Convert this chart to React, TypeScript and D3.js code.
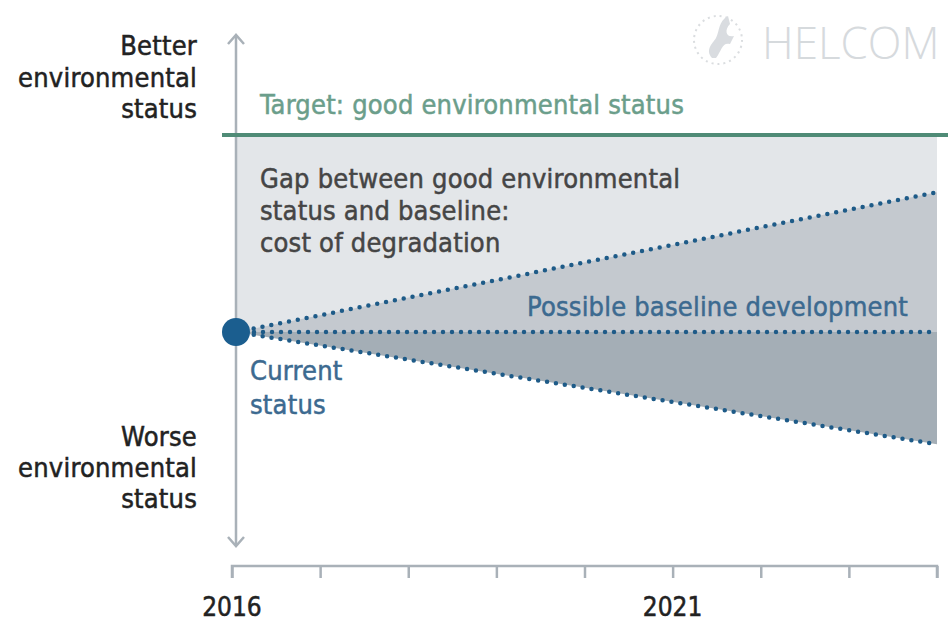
import * as d3 from 'd3';
import { useEffect, useRef } from 'react';

// years on the x axis (ticks every year)
const years = [2016, 2017, 2018, 2019, 2020, 2021, 2022, 2023, 2024];
const yearLabels = [2016, 2021];
// status relative to the current status (0), target = 1
const scenarioYears = [2016, 2024];
const upperScenario = [0, 0.71];
const baselineScenario = [0, 0];
const lowerScenario = [0, -0.57];
const targetStatus = 1;

const FONT = '"DejaVu Sans Condensed", "Liberation Sans Narrow", "Roboto", sans-serif';

export default function App() {
  const ref = useRef<SVGSVGElement | null>(null);

  useEffect(() => {
    const svg = d3.select(ref.current);
    svg.selectAll('*').remove();

    const margin = { left: 232, right: 13 };
    const W = 950;

    const x = d3.scaleLinear()
      .domain([years[0], years[years.length - 1]])
      .range([margin.left, W - margin.right]);
    const y = d3.scaleLinear()
      .domain([0, targetStatus])
      .range([332, 135]);

    const xEnd = x(scenarioYears[1]);
    const x0 = x(scenarioYears[0]) + 4;

    const pts = (vals: number[]) => scenarioYears.map((yr, i) => [yr === scenarioYears[0] ? x0 : x(yr), y(vals[i])] as [number, number]);

    // light gray gap area up to target
    svg.append('rect')
      .attr('x', x0)
      .attr('y', y(targetStatus))
      .attr('width', xEnd - x0)
      .attr('height', y(0) - y(targetStatus))
      .attr('fill', '#e3e6e9');

    const area = d3.area<[number, number, number]>()
      .x(d => d[0])
      .y0(d => d[1])
      .y1(d => d[2]);

    const band = (top: number[], bot: number[]) => scenarioYears.map((yr, i) =>
      [yr === scenarioYears[0] ? x0 : x(yr), y(top[i]), y(bot[i])] as [number, number, number]);

    svg.append('path')
      .attr('d', area(band(upperScenario, baselineScenario)))
      .attr('fill', '#c4c9cf');
    svg.append('path')
      .attr('d', area(band(baselineScenario, lowerScenario)))
      .attr('fill', '#a4aeb6');

    // vertical arrow axis
    const ax = x0;
    svg.append('line')
      .attr('x1', ax).attr('x2', ax)
      .attr('y1', 36).attr('y2', 545)
      .attr('stroke', '#a9b1b8').attr('stroke-width', 2.5);
    svg.append('path')
      .attr('d', `M${ax - 8},${44} L${ax},${35} L${ax + 8},${44}`)
      .attr('fill', 'none').attr('stroke', '#a9b1b8').attr('stroke-width', 2.5);
    svg.append('path')
      .attr('d', `M${ax - 8},${537} L${ax},${546} L${ax + 8},${537}`)
      .attr('fill', 'none').attr('stroke', '#a9b1b8').attr('stroke-width', 2.5);

    // target line
    svg.append('line')
      .attr('x1', 222).attr('x2', 948)
      .attr('y1', y(targetStatus)).attr('y2', y(targetStatus))
      .attr('stroke', '#4f8b76').attr('stroke-width', 4);

    // dotted scenario lines
    const line = d3.line();
    [upperScenario, baselineScenario, lowerScenario].forEach(s => {
      svg.append('path')
        .attr('d', line(pts(s)))
        .attr('fill', 'none')
        .attr('stroke', '#1e5b88')
        .attr('stroke-width', 4.5)
        .attr('stroke-linecap', 'round')
        .attr('stroke-dasharray', '0 9');
    });

    // current status point
    svg.append('circle')
      .attr('cx', x0).attr('cy', y(0)).attr('r', 14)
      .attr('fill', '#1b5e8f');

    // x axis
    const axisY = 566;
    const xAxis = svg.append('g')
      .attr('transform', `translate(0,${axisY})`)
      .call(d3.axisBottom(x).tickValues(years).tickSize(12).tickSizeOuter(12).tickFormat(() => ''));
    xAxis.select('.domain')
      .attr('stroke', '#a9b1b8').attr('stroke-width', 2.5)
      .attr('d', `M${x(years[0])},12V0H${x(years[years.length - 1])}V12`);
    xAxis.selectAll('.tick line').attr('stroke', '#a9b1b8').attr('stroke-width', 2.5);

    svg.selectAll('text.year')
      .data(yearLabels)
      .enter()
      .append('text')
      .attr('class', 'year')
      .attr('x', d => x(d))
      .attr('y', 616)
      .attr('text-anchor', 'middle')
      .attr('font-family', FONT)
      .attr('font-size', 26)
      .attr('fill', '#222')
      .attr('stroke', '#222')
      .attr('stroke-width', 0.5)
      .text(d => d);

    const addText = (lines: string[], tx: number, ty: number, dy: number, fill: string, anchor = 'start', size = 27) => {
      const t = svg.append('text')
        .attr('font-family', FONT)
        .attr('font-size', size)
        .attr('fill', fill)
        .attr('stroke', fill)
        .attr('stroke-width', 0.5)
        .attr('letter-spacing', 0.2)
        .attr('text-anchor', anchor);
      lines.forEach((l, i) => {
        t.append('tspan').attr('x', tx).attr('y', ty + i * dy).text(l);
      });
    };

    addText(['Better', 'environmental', 'status'], 197, 55, 31.5, '#222', 'end');
    addText(['Worse', 'environmental', 'status'], 197, 446, 31, '#222', 'end');
    addText(['Target: good environmental status'], 260, 114, 0, '#6b9e8b');
    addText(['Gap between good environmental', 'status and baseline:', 'cost of degradation'], 260, 188, 32, '#454545');
    addText(['Possible baseline development'], 527, 316, 0, '#3c6a90');
    addText(['Current', 'status'], 250, 380, 34, '#3c6a90');

    // HELCOM logo
    const logo = svg.append('g').attr('opacity', 0.9);
    logo.append('circle')
      .attr('cx', 718).attr('cy', 40).attr('r', 24)
      .attr('fill', 'none').attr('stroke', '#d7dadd').attr('stroke-width', 2)
      .attr('stroke-dasharray', '2 4');
    logo.append('path')
      .attr('d', 'M712,58 C705,50 712,44 716,38 C720,30 718,22 728,16 L730,24 C724,30 726,38 734,36 L730,44 C722,42 722,50 716,58 Z')
      .attr('fill', '#d5d9dd');
    logo.append('text')
      .attr('x', 762).attr('y', 59)
      .attr('font-family', '"Open Sans", sans-serif')
      .attr('font-weight', 300)
      .attr('font-size', 44)
      .attr('fill', '#d2d6da')
      .text('HELCOM');
  }, []);

  return (
    <div style={{ position: 'absolute', left: 0, top: 0 }}>
      <svg ref={ref} width={950} height={623} style={{ display: 'block', background: '#fff' }} />
    </div>
  );
}
